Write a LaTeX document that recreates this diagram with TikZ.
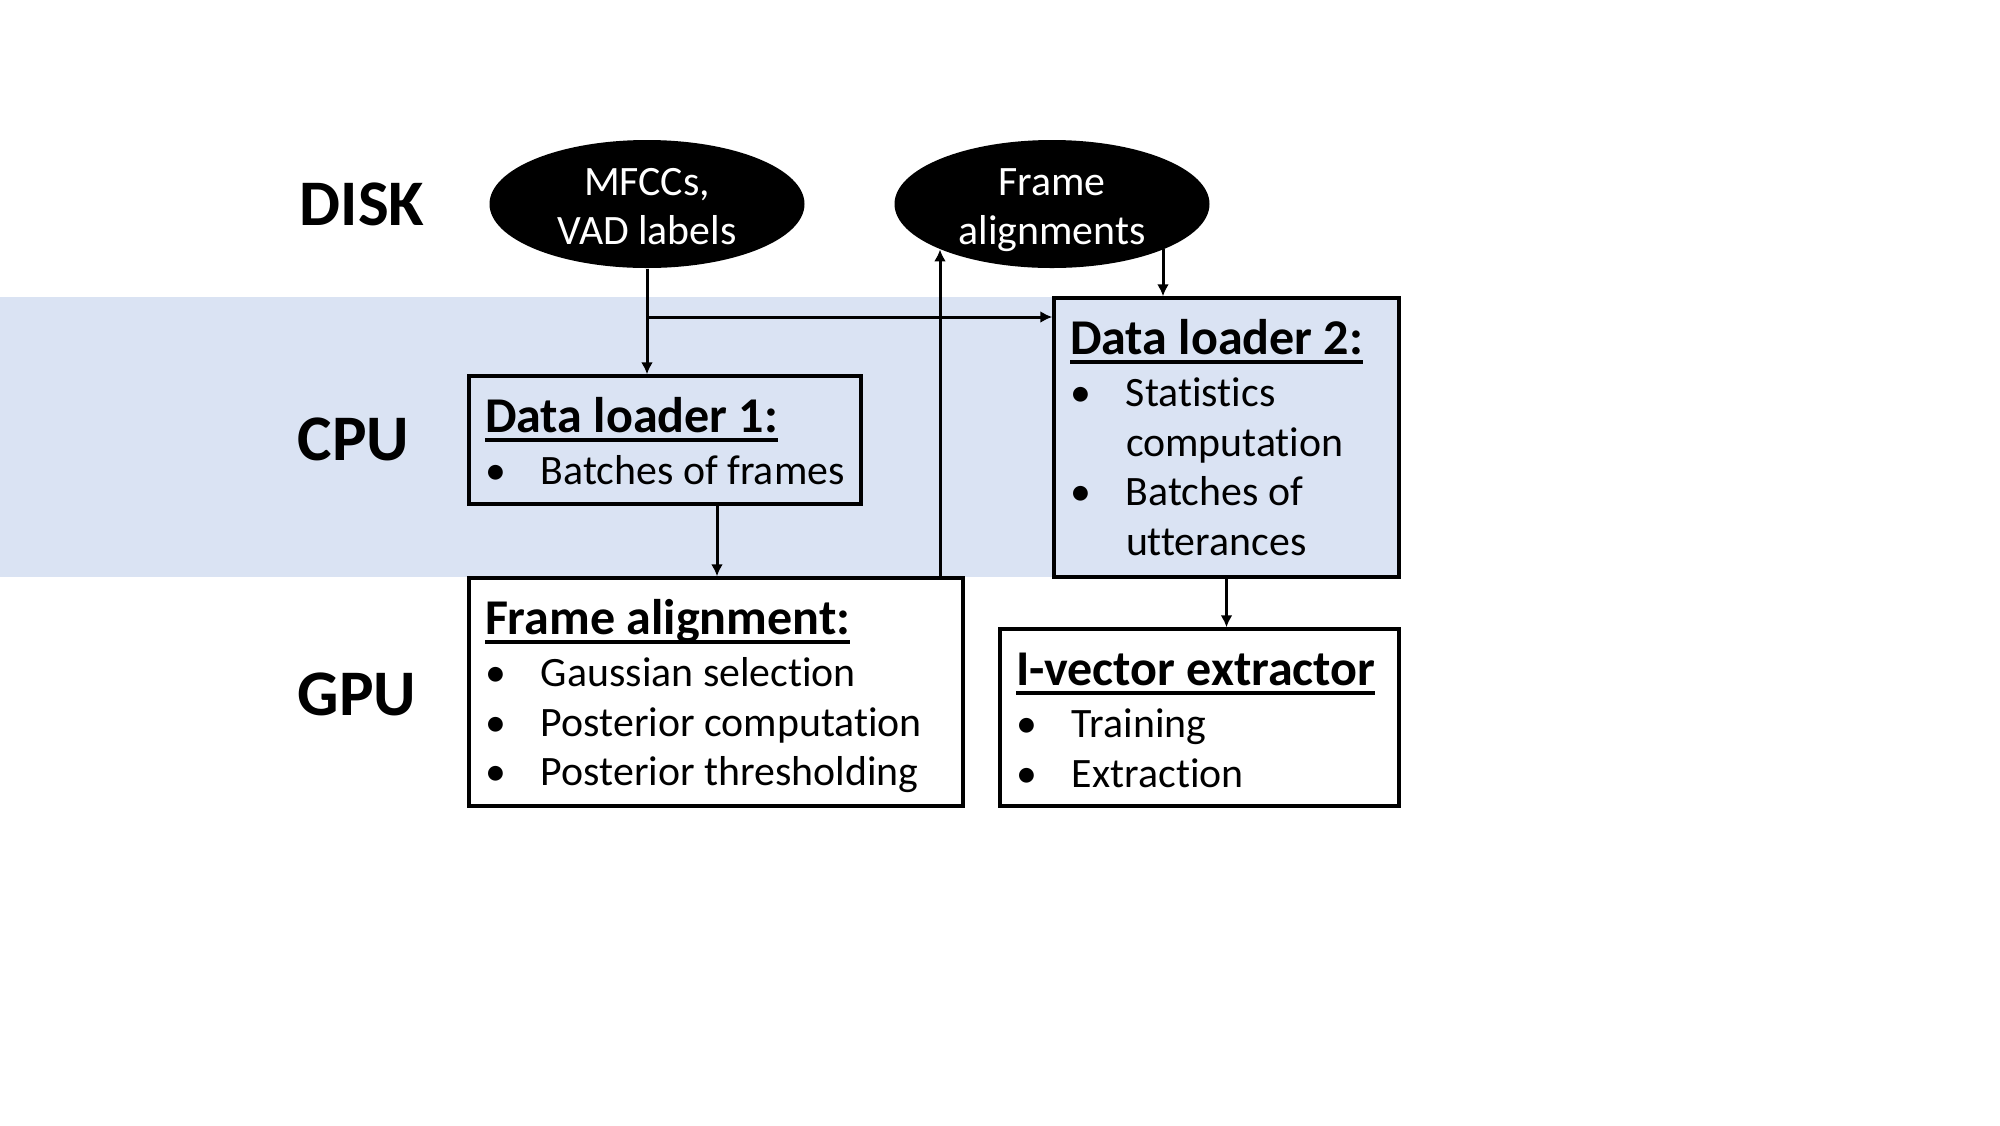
\documentclass[tikz,border=0pt]{standalone}
\usepackage{fontspec}
\setmainfont{Carlito}[Ligatures=NoCommon]
\usetikzlibrary{arrows.meta,shapes.geometric,calc}
\definecolor{bandblue}{HTML}{DAE3F3}
\newcommand\bodyfnt{\fontsize{11.9}{14.1}\selectfont}
\newcommand\headfnt{\fontsize{14.25}{15.5}\selectfont\bfseries}
\newcommand\hdln[1]{{\headfnt\setbox0\hbox{#1}\rlap{\rule[-0.19em]{\wd0}{0.07em}}\box0}}
\newcommand\bul[1]{\mbox{\makebox[0.56cm][l]{\textbullet}#1}}
\newcommand\cont[1]{\mbox{\hspace*{0.56cm}#1}}
\newcommand\boxtxt[3]{\parbox[c][#2][t]{#1}{\raggedright\bodyfnt\hfuzz=20cm\rule{0pt}{0.56cm}#3}}
\newcommand\est{\rule[-2.5pt]{0pt}{14.1pt}}
\tikzset{
  lane/.style={font=\fontsize{18.5}{20}\selectfont\bfseries, inner sep=0pt, anchor=west},
  store/.style={ellipse, fill=black, minimum width=3.15cm, minimum height=1.28cm, inner sep=0pt},
  storetext/.style={text=white, align=center, font=\bodyfnt, inner sep=0pt},
  box/.style={draw, line width=1pt, inner xsep=0.16cm, inner ysep=0pt},
  conn/.style={line width=0.85pt, -{Latex[length=0.12cm,width=0.12cm]}}
}
\begin{document}
\begin{tikzpicture}
\useasboundingbox (0,0) rectangle (20,-11.25);
\fill[bandblue] (0,-2.97) rectangle (13.99,-5.77);

\node[lane] (disk) at (2.99,-2.04) {DISK};
\node[lane] (cpu) at (2.97,-4.39) {CPU};
\node[lane] (gpu) at (2.97,-6.94) {GPU};

\node[store, label={[storetext]center:{\est MFCCs,\\\est VAD labels}}] (e1) at (6.47,-2.04) {};
\node[store, label={[storetext]center:{\est Frame\\\est alignments}}] (e2) at (10.52,-2.04) {};

\node[box, fill=bandblue] (dl1) at (6.65,-4.40)
  {\boxtxt{3.60cm}{1.28cm}{\hdln{Data loader 1:}\\[0.9pt]\bul{Batches of frames}}};
\node[box, fill=bandblue] (dl2) at (12.265,-4.375)
  {\boxtxt{3.13cm}{2.79cm}{\hdln{Data loader 2:}\\[0.9pt]\bul{Statistics}\\\cont{computation}\\\bul{Batches of}\\\cont{utterances}}};
\node[box, fill=white] (fa) at (7.16,-6.92)
  {\boxtxt{4.62cm}{2.28cm}{\hdln{Frame alignment:}\\[0.9pt]\bul{Gaussian selection}\\\bul{Posterior computation}\\\bul{Posterior thresholding}}};
\node[box, fill=white] (iv) at (11.995,-7.175)
  {\boxtxt{3.67cm}{1.77cm}{\hdln{I-vector extractor}\\[0.9pt]\bul{Training}\\\bul{Extraction}}};

\coordinate (br) at (6.48,-3.17);
\coordinate (upx) at (9.40,0);
\coordinate (dnx) at (11.63,0);
\coordinate (d1x) at (7.17,0);

\draw[conn] (e1.south) -- (e1.south |- dl1.north);
\draw[conn] (br) -- (br -| dl2.west);
\draw[conn] (upx |- fa.north) -- (upx |- e2.202);
\draw[conn] (dnx |- e2.338) -- (dnx |- dl2.north);
\draw[conn] (d1x |- dl1.south) -- (d1x |- fa.north);
\draw[conn] (dl2.south) -- (dl2.south |- iv.north);
\end{tikzpicture}
\end{document}
